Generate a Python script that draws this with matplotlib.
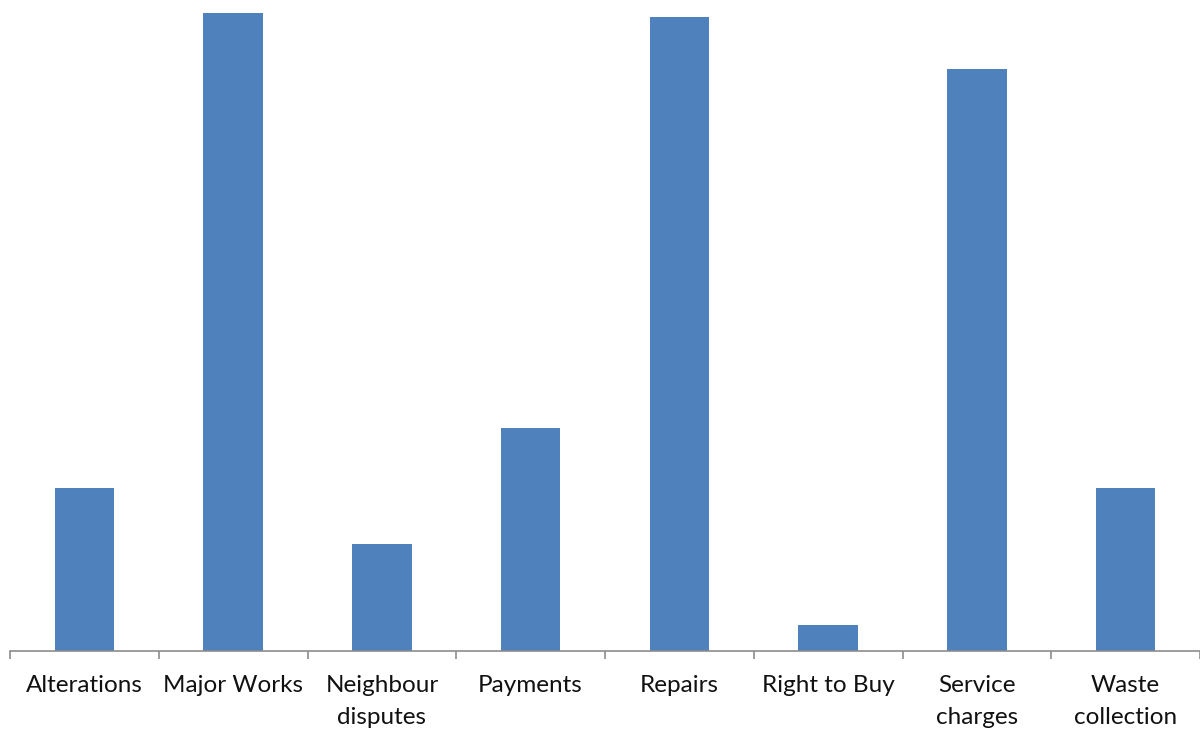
import matplotlib.pyplot as plt
import numpy as np

categories = ['Alterations', 'Major Works', 'Neighbour\ndisputes', 'Payments',
              'Repairs', 'Right to Buy', 'Service\ncharges', 'Waste\ncollection']
counts = [163, 638, 107, 223, 634, 26, 582, 163]


def plot_categories(labels, values) -> None:
    plt.rcParams['font.family'] = ['Lato', 'DejaVu Sans']

    fig = plt.figure(figsize=(12, 7.33), dpi=100)
    # axes spans from the baseline up to the top edge of the figure
    ax = fig.add_axes([10 / 1200, 1 - 651 / 733, 1190 / 1200, 651 / 733])

    x = np.arange(len(labels))
    ax.bar(x, values, width=0.4, color='#4F81BD', zorder=2)

    ax.set_xlim(-0.5, len(labels) - 0.5)
    ax.set_ylim(0, 651)

    # category labels at the centres, tick marks on the boundaries
    ax.set_xticks(x)
    ax.set_xticklabels(labels, fontsize=17.5, color='#111111', linespacing=1.65)
    ax.tick_params(axis='x', which='major', length=0, pad=17.5)
    ax.set_xticks(np.arange(-0.5, len(labels)), minor=True)
    ax.tick_params(axis='x', which='minor', length=6, width=1.2, color='#8C8C8C',
                   direction='out')

    ax.set_yticks([])
    for side in ['top', 'right', 'left']:
        ax.spines[side].set_visible(False)
    ax.spines['bottom'].set_color('#8C8C8C')
    ax.spines['bottom'].set_linewidth(1.2)
    ax.spines['bottom'].set_zorder(3)

    fig.savefig('out.png', dpi=100)


def main() -> None:
    plot_categories(categories, counts)


if __name__ == '__main__':
    main()
